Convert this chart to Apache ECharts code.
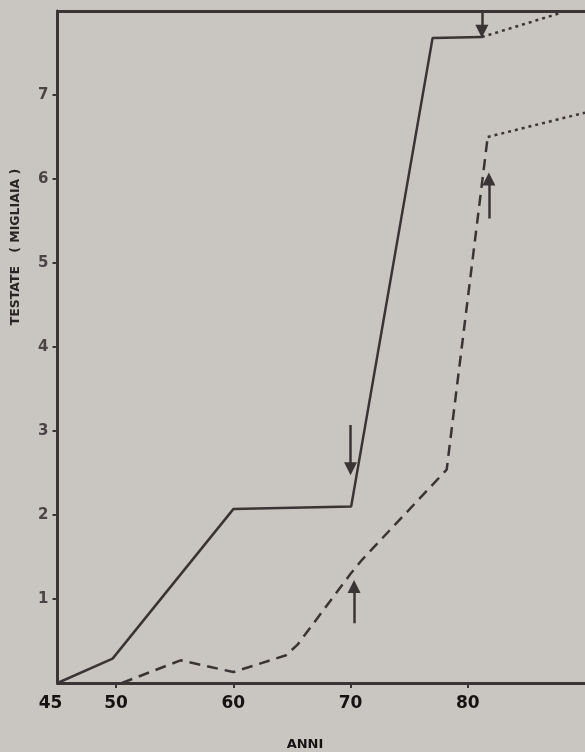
<!DOCTYPE html>
<html><head><meta charset="utf-8">
<script src="https://cdn.jsdelivr.net/npm/echarts@6/dist/echarts.min.js"></script>
<style>html,body{margin:0;padding:0;background:#c9c5c0}#c{width:585px;height:752px}</style>
</head><body><div id="c"></div>
<script>
// Data
const solidYears = [45, 49.7, 60, 70.05, 77, 81.2];
const solidValues = [0, 0.29, 2.07, 2.1, 7.68, 7.69];
const solidExtYears = [81.2, 88];
const solidExtValues = [7.69, 7.98];
const dashedYears = [50.5, 55.5, 60, 64.5, 65.5, 70, 71, 78.2, 81.7];
const dashedValues = [0, 0.27, 0.13, 0.33, 0.46, 1.3, 1.47, 2.54, 6.5];
const dashedExtYears = [81.7, 90];
const dashedExtValues = [6.5, 6.79];
// arrows: [fromYear, fromValue, toYear, toValue]
const arrowFromYears = [70.0, 70.3, 81.2, 81.8];
const arrowFromValues = [3.07, 0.71, 8.0, 5.53];
const arrowToYears = [70.0, 70.3, 81.2, 81.8];
const arrowToValues = [2.55, 1.15, 7.76, 6.0];
const xTickLabels = [45, 50, 60, 70, 80];
const yTickLabels = [1, 2, 3, 4, 5, 6, 7];

const INK = '#3b3434';
const zip = (a, b) => a.map((v, i) => [v, b[i]]);
const chart = echarts.init(document.getElementById('c'));
chart.setOption({
  backgroundColor: '#c9c5c0',
  animation: false,
  grid: { left: 57.5, right: 0, top: 11, bottom: 69 },
  xAxis: [{
    type: 'value', min: 45, max: 90, interval: 5,
    splitLine: { show: false },
    axisLine: { lineStyle: { color: INK, width: 3 } },
    axisTick: { customValues: [50, 60, 70, 80], length: 5, lineStyle: { color: INK, width: 2 } },
    axisLabel: {
      customValues: xTickLabels, margin: 12,
      formatter: v => v === 45 ? '{a|45}' : String(v),
      rich: { a: { padding: [0, 14, 0, 0], fontFamily: 'DejaVu Sans', fontWeight: 'bold', fontSize: 17, color: '#151212' } },
      fontFamily: 'DejaVu Sans', fontWeight: 'bold', fontSize: 17, color: '#151212'
    }
  }, {
    type: 'value', position: 'top', min: 45, max: 90,
    splitLine: { show: false }, axisTick: { show: false }, axisLabel: { show: false },
    axisLine: { lineStyle: { color: INK, width: 3 } }
  }],
  yAxis: {
    type: 'value', min: 0, max: 8, interval: 1,
    splitLine: { show: false },
    axisLine: { lineStyle: { color: INK, width: 3 } },
    axisTick: { customValues: yTickLabels, length: 5, lineStyle: { color: INK, width: 2 } },
    axisLabel: { customValues: yTickLabels, margin: 9, fontFamily: 'DejaVu Sans', fontWeight: 'bold', fontSize: 15, color: '#4a4444' }
  },
  graphic: [
    { type: 'text', x: 16, y: 247, rotation: Math.PI / 2,
      style: { text: 'TESTATE   ( MIGLIAIA )', fontFamily: 'DejaVu Sans', fontWeight: 'bold', fontSize: 12.5, fill: '#2a2525', align: 'center', verticalAlign: 'middle' } },
    { type: 'text', x: 305, y: 745,
      style: { text: 'ANNI', fontFamily: 'DejaVu Sans', fontWeight: 'bold', fontSize: 13, fill: '#151212', align: 'center', verticalAlign: 'middle' } }
  ],
  series: [
    { type: 'line', data: zip(solidYears, solidValues), symbol: 'none', lineStyle: { color: INK, width: 2.5 } },
    { type: 'line', data: zip(solidExtYears, solidExtValues), symbol: 'none', lineStyle: { color: INK, width: 2.5, type: [3, 4] } },
    { type: 'line', data: zip(dashedYears, dashedValues), symbol: 'none', lineStyle: { color: INK, width: 2.5, type: [11, 7] } },
    { type: 'line', data: zip(dashedExtYears, dashedExtValues), symbol: 'none', lineStyle: { color: INK, width: 2.5, type: [3, 4] } },
    { type: 'lines', coordinateSystem: 'cartesian2d', symbol: ['none', 'triangle'], symbolSize: [10, 13],
      lineStyle: { color: INK, width: 2.5, opacity: 1 },
      data: arrowFromYears.map((x, i) => ({ coords: [[x, arrowFromValues[i]], [arrowToYears[i], arrowToValues[i]]] })) }
  ]
});
</script></body></html>
